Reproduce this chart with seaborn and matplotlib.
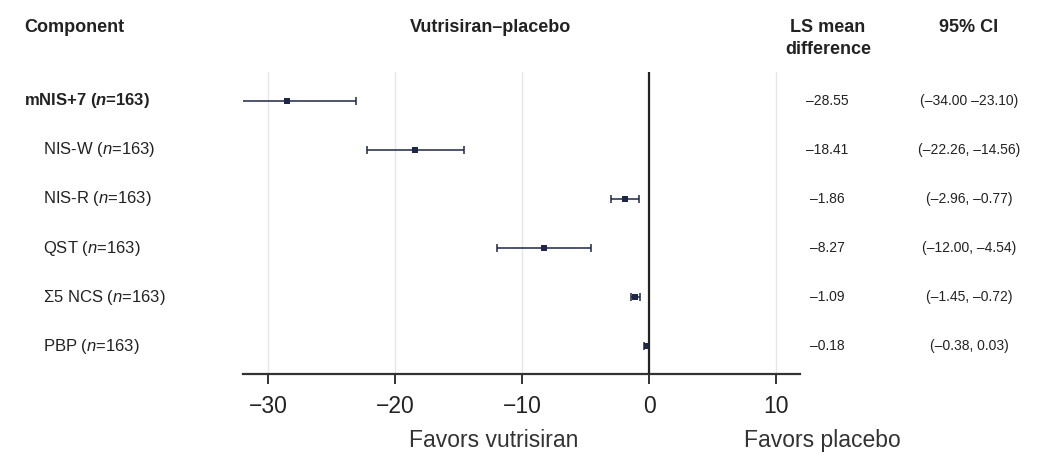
import matplotlib
matplotlib.use("Agg")
import matplotlib.pyplot as plt
import matplotlib.transforms as mtransforms
import seaborn as sns
import pandas as pd

# ---- data ----
components = ["mNIS+7", "NIS-W", "NIS-R", "QST", "Σ5 NCS", "PBP"]
n_values = [163, 163, 163, 163, 163, 163]
ls_mean = [-28.55, -18.41, -1.86, -8.27, -1.09, -0.18]
ci_low = [-34.00, -22.26, -2.96, -12.00, -1.45, -0.38]
ci_high = [-23.10, -14.56, -0.77, -4.54, -0.72, 0.03]
ls_labels = ["–28.55", "–18.41", "–1.86", "–8.27", "–1.09", "–0.18"]
ci_labels = ["(–34.00 –23.10)", "(–22.26, –14.56)", "(–2.96, –0.77)",
             "(–12.00, –4.54)", "(–1.45, –0.72)", "(–0.38, 0.03)"]
x_ticks = [-30, -20, -10, 0, 10]

df = pd.DataFrame({"component": components, "ls": ls_mean,
                   "lo": ci_low, "hi": ci_high, "row": range(len(components))})

sns.set_theme(style="white")
plt.rcParams["font.family"] = ["Liberation Sans", "DejaVu Sans"]
plt.rcParams["mathtext.fontset"] = "custom"
plt.rcParams["mathtext.rm"] = "Liberation Sans"
plt.rcParams["mathtext.it"] = "Liberation Sans:italic"
plt.rcParams["mathtext.bf"] = "Liberation Sans:bold"
plt.rcParams["mathtext.bfit"] = "Liberation Sans:italic:bold"

W, H = 1038, 461
fig = plt.figure(figsize=(W / 100, H / 100), dpi=100)
fig.patch.set_facecolor("white")
ax = fig.add_axes([243 / W, (H - 374) / H, (800 - 243) / W, (374 - 72) / H])

navy = "#1d2747"
txt = "#222222"

ax.errorbar(df["ls"], df["row"], xerr=[df["ls"] - df["lo"], df["hi"] - df["ls"]],
            fmt="none", ecolor=navy, elinewidth=1.1, capsize=2.6, capthick=1.1, zorder=3)
sns.scatterplot(data=df, x="ls", y="row", marker="s", s=24, color=navy,
                linewidth=0, ax=ax, zorder=4, legend=False)
ax.axvline(0, color="#222222", lw=1.6, zorder=5)

ax.set_xlim(-32.0, 11.9)
ax.set_ylim(5.57, -0.59)
ax.set_xticks(x_ticks)
ax.set_xticklabels([("−" + str(abs(t))) if t < 0 else str(t) for t in x_ticks])
ax.set_yticks([])
ax.set_xlabel("")
ax.set_ylabel("")
ax.grid(axis="x", color="#e6e6e6", lw=1)
ax.grid(axis="y", visible=False)
sns.despine(ax=ax, left=True, top=True, right=True)
ax.spines["bottom"].set_color("#333333")
ax.spines["bottom"].set_linewidth(1.6)
ax.tick_params(axis="x", direction="out", length=7, width=1.4, color="#333333",
               labelsize=16.5, labelcolor=txt, pad=8, bottom=True)

# row texts
tr = mtransforms.blended_transform_factory(fig.transFigure, ax.transData)
for i, (c, n) in enumerate(zip(components, n_values)):
    if i == 0:
        ax.text(24 / W, i, c + " ($\\mathbfit{n}$=" + str(n) + ")", transform=tr,
                fontsize=12, fontweight="bold", color=txt, ha="left", va="center")
    else:
        ax.text(43 / W, i, c + " ($\\it{n}$=" + str(n) + ")", transform=tr,
                fontsize=12, color=txt, ha="left", va="center")
    ax.text(827 / W, i, ls_labels[i], transform=tr, fontsize=10, color=txt,
            ha="center", va="center")
    ax.text(969 / W, i, ci_labels[i], transform=tr, fontsize=10, color=txt,
            ha="center", va="center", clip_on=False)

# headers
def fy(y):
    return 1 - y / H

hs = 13
fig.text(24 / W, fy(28), "Component", fontsize=hs, fontweight="bold", color=txt,
         ha="left", va="center")
fig.text(490 / W, fy(28), "Vutrisiran–placebo", fontsize=hs, fontweight="bold",
         color=txt, ha="center", va="center")
fig.text(828 / W, fy(28), "LS mean", fontsize=hs, fontweight="bold", color=txt,
         ha="center", va="center")
fig.text(828 / W, fy(49), "difference", fontsize=hs, fontweight="bold", color=txt,
         ha="center", va="center")
fig.text(969 / W, fy(28), "95% CI", fontsize=hs, fontweight="bold", color=txt,
         ha="center", va="center")

fig.text(494 / W, fy(440), "Favors vutrisiran", fontsize=16.5, color="#333333",
         ha="center", va="center")
fig.text(822 / W, fy(440), "Favors placebo", fontsize=16.5, color="#333333",
         ha="center", va="center")

fig.savefig("out.png", dpi=100, facecolor="white")
